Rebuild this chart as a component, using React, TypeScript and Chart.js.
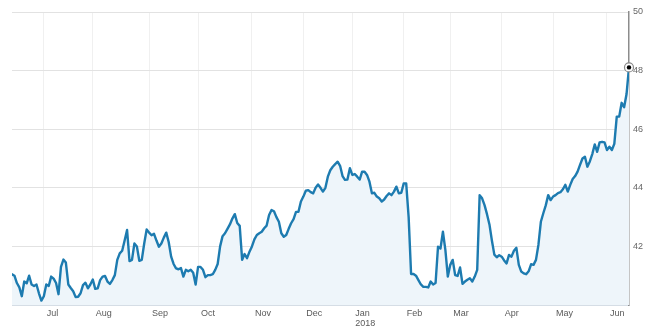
import React, { useEffect, useRef } from 'react';
import { Chart, registerables } from 'chart.js';

Chart.register(...registerables);

// Trading-day ordinal of the first price (0 = first trading day of Jul 2017)
const startDay = -13;

// Daily closing prices
const prices: number[] = [
  41.05, 41.0, 40.75, 40.6, 40.3, 40.8, 40.74, 41.0, 40.7, 40.65,
  40.7, 40.4, 40.15, 40.3, 40.7, 40.65, 40.97, 40.9, 40.75, 40.37,
  41.3, 41.55, 41.45, 40.7, 40.58, 40.47, 40.27, 40.28, 40.4, 40.68,
  40.76, 40.57, 40.7, 40.87, 40.55, 40.57, 40.85, 40.97, 40.99, 40.8,
  40.72, 40.85, 41.02, 41.54, 41.76, 41.85, 42.2, 42.56, 41.5, 41.54,
  42.1, 42.0, 41.51, 41.54, 42.1, 42.58, 42.47, 42.38, 42.43, 42.2,
  41.99, 42.1, 42.3, 42.47, 42.15, 41.65, 41.4, 41.25, 41.22, 41.26,
  40.97, 41.2, 41.15, 41.2, 41.1, 40.7, 41.3, 41.3, 41.2, 40.95,
  41.02, 41.02, 41.05, 41.2, 41.4, 42.0, 42.35, 42.45, 42.6, 42.75,
  42.95, 43.1, 42.8, 42.7, 41.54, 41.74, 41.6, 41.82, 42.0, 42.24,
  42.39, 42.45, 42.5, 42.62, 42.71, 43.07, 43.24, 43.2, 43.0, 42.84,
  42.45, 42.33, 42.39, 42.6, 42.79, 42.93, 43.18, 43.18, 43.53, 43.7,
  43.9, 43.92, 43.85, 43.81, 44.0, 44.11, 44.0, 43.87, 44.0, 44.38,
  44.6, 44.72, 44.81, 44.89, 44.75, 44.4, 44.27, 44.28, 44.67, 44.44,
  44.47, 44.38, 44.28, 44.55, 44.55, 44.44, 44.21, 43.81, 43.83, 43.7,
  43.64, 43.53, 43.6, 43.72, 43.81, 43.75, 43.87, 44.04, 43.81, 43.83,
  44.15, 44.15, 43.0, 41.06, 41.06, 41.0, 40.85, 40.7, 40.62, 40.62,
  40.6, 40.8, 40.7, 40.75, 41.99, 41.93, 42.5, 41.88, 40.97, 41.37,
  41.54, 41.02, 40.99, 41.28, 40.72, 40.8, 40.86, 40.91, 40.8, 40.97,
  41.2, 43.75, 43.64, 43.41, 43.1, 42.75, 42.2, 41.72, 41.63, 41.7,
  41.65, 41.52, 41.42, 41.71, 41.65, 41.85, 41.95, 41.37, 41.14, 41.08,
  41.05, 41.15, 41.39, 41.37, 41.54, 42.05, 42.84, 43.13, 43.4, 43.75,
  43.58, 43.7, 43.75, 43.82, 43.85, 43.95, 44.1, 43.87, 44.1, 44.3,
  44.4, 44.55, 44.78, 45.0, 45.06, 44.72, 44.9, 45.15, 45.48, 45.23,
  45.55, 45.57, 45.55, 45.29, 45.4, 45.29, 45.5, 46.43, 46.43, 46.9,
  46.75, 47.2, 48.11,
];

// First trading day of each month (ordinal) and its label
const monthTickDays = [0, 20, 43, 63, 85, 106, 126, 147, 166, 187, 208, 230];
const monthLabels = ['Jul', 'Aug', 'Sep', 'Oct', 'Nov', 'Dec', 'Jan', 'Feb', 'Mar', 'Apr', 'May', 'Jun'];
const yearLabels: Record<string, string> = { Jan: '2018' };

const yMin = 40;
const yMax = 50;
const yStep = 2;

const FONT = '"Liberation Sans", Arial, sans-serif';

export default function App() {
  const ref = useRef<HTMLCanvasElement>(null);

  useEffect(() => {
    if (!ref.current) return;
    const points = prices.map((v, i) => ({ x: startDay + i, y: v }));
    const endDay = startDay + prices.length - 1;

    const lastMarker = {
      id: 'lastMarker',
      afterDatasetsDraw(chart: any) {
        const meta = chart.getDatasetMeta(0);
        const el = meta.data[meta.data.length - 1];
        if (!el) return;
        const ctx = chart.ctx;
        ctx.save();
        ctx.beginPath();
        ctx.arc(el.x, el.y, 4.5, 0, Math.PI * 2);
        ctx.fillStyle = '#ffffff';
        ctx.fill();
        ctx.lineWidth = 1.2;
        ctx.strokeStyle = '#8a8a8a';
        ctx.stroke();
        ctx.beginPath();
        ctx.arc(el.x, el.y, 2.2, 0, Math.PI * 2);
        ctx.fillStyle = '#000000';
        ctx.fill();
        ctx.restore();
      },
    };

    const chart = new Chart(ref.current, {
      type: 'line',
      data: {
        datasets: [
          {
            data: points,
            borderColor: '#1d7bb0',
            borderWidth: 2.4,
            borderJoinStyle: 'round',
            borderCapStyle: 'round',
            backgroundColor: '#eef5fa',
            fill: 'start',
            pointRadius: 0,
            tension: 0,
          },
        ],
      },
      options: {
        animation: false,
        responsive: true,
        maintainAspectRatio: false,
        layout: { padding: { left: 12, top: 12, right: 0, bottom: 0 } },
        plugins: { legend: { display: false }, tooltip: { enabled: false } },
        scales: {
          x: {
            type: 'linear',
            min: startDay,
            max: endDay,
            afterBuildTicks: (s: any) => {
              s.ticks = monthTickDays.map((v) => ({ value: v }));
            },
            afterFit: (s: any) => {
              s.height = 23;
            },
            ticks: {
              autoSkip: false,
              maxRotation: 0,
              minRotation: 0,
              align: 'start',
              labelOffset: 3,
              padding: 3,
              color: '#5a5a5a',
              font: { family: FONT, size: 9, lineHeight: 1.15 },
              callback: (value: any) => {
                const i = monthTickDays.indexOf(Number(value));
                if (i < 0) return '';
                const m = monthLabels[i];
                return yearLabels[m] ? [m, yearLabels[m]] : m;
              },
            },
            grid: { color: '#f0f0f0', drawTicks: false },
            border: { color: '#d5dde5', width: 1 },
          },
          y: {
            position: 'right',
            min: yMin,
            max: yMax,
            afterFit: (s: any) => {
              s.width = 21;
            },
            ticks: {
              stepSize: yStep,
              padding: 4,
              color: '#666',
              font: { family: FONT, size: 9 },
              callback: (v: any) => (Number(v) === yMin ? '' : String(v)),
            },
            grid: {
              color: (c: any) => (c.tick && c.tick.value === yMin ? '#d5dde5' : '#e2e2e2'),
              drawTicks: false,
            },
            border: { color: '#8c8c8c', width: 1.5 },
          },
        },
      },
      plugins: [lastMarker],
    } as any);

    return () => chart.destroy();
  }, []);

  return (
    <div style={{ position: 'fixed', left: 0, top: 0, width: 650, height: 328 }}>
      <canvas ref={ref} />
    </div>
  );
}
